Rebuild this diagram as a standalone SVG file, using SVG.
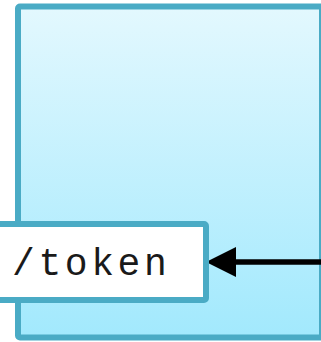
<svg xmlns="http://www.w3.org/2000/svg" width="321" height="342" viewBox="0 0 321 342">
  <style>
    .frame { stroke: #4aabc5; stroke-width: 6; }
    .label { font-family: "Liberation Mono", "Courier New", monospace; font-size: 38px; letter-spacing: 3.6px; fill: #1a1a1a; }
    .wire { stroke: #000; stroke-width: 5.5; fill: none; }
  </style>
  <defs>
    <linearGradient id="serviceFill" x1="0" y1="0" x2="0" y2="1">
      <stop offset="0" stop-color="#e3f8fe"/>
      <stop offset="1" stop-color="#a2e9fd"/>
    </linearGradient>
    <marker id="arrowHead" viewBox="0 0 30 30" refX="0" refY="15" markerWidth="30" markerHeight="30" markerUnits="userSpaceOnUse" orient="auto-start-reverse">
      <path d="M0,0 L30,15 L0,30 Z" fill="#000"/>
    </marker>
  </defs>

  <g id="service">
    <rect class="frame" x="18" y="6.5" width="304" height="331" rx="2" fill="url(#serviceFill)"/>
  </g>

  <g id="connectors">
    <line class="wire" x1="324" y1="262" x2="236" y2="262" marker-end="url(#arrowHead)"/>
  </g>

  <g id="token-endpoint">
    <rect class="frame" x="-10" y="224" width="216" height="76" rx="2" fill="#fff"/>
    <text class="label" x="12" y="275">/token</text>
  </g>
</svg>
